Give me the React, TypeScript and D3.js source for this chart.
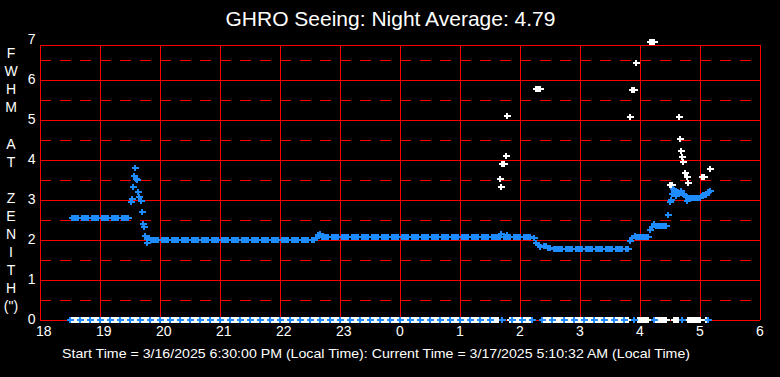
import React from "react";
import * as d3 from "d3";

// ---------- DATA ----------
const TITLE = "GHRO Seeing: Night Average: 4.79";
const FOOTER =
  "Start Time = 3/16/2025 6:30:00 PM (Local Time): Current Time = 3/17/2025 5:10:32 AM (Local Time)";
const Y_LETTERS = ["F", "W", "H", "M", "", "A", "T", "", "Z", "E", "N", "I", "T", "H", '(")'];
const xTickLabels = ["18", "19", "20", "21", "22", "23", "0", "1", "2", "3", "4", "5", "6"];
const yTickValues = [0, 1, 2, 3, 4, 5, 6, 7];

// samples every 2 minutes starting 18:30 (minutes counted from 18:00)
const GRID_START_MIN = 30;
const GRID_STEP_MIN = 2;

// blue series (FWHM), one value per 2-minute sample; 0 = dropout plotted on the axis
const blueGrid: (number | null)[] = [
  0, 2.55, 2.55, 2.55, 2.55, 0, 2.55, 2.55, 2.55, 2.55,
  0, 2.55, 2.55, 2.55, 2.55, 0, 2.55, 2.55, 2.55, 2.55,
  0, 2.55, 2.55, 2.55, 2.55, 0, 2.55, 2.55, 2.55, 2.55,
  0, null, null, null, null, 0, null, null, null, null,
  0, 2.0, 2.0, 2.0, 2.0, 0, 2.0, 2.0, 2.0, 2.0,
  0, 2.0, 2.0, 2.0, 2.0, 0, 2.0, 2.0, 2.0, 2.0,
  0, 2.0, 2.0, 2.0, 2.0, 0, 2.0, 2.0, 2.0, 2.0,
  0, 2.0, 2.0, 2.0, 2.0, 0, 2.0, 2.0, 2.0, 2.0,
  0, 2.0, 2.0, 2.0, 2.0, 0, 2.0, 2.0, 2.0, 2.0,
  0, 2.0, 2.0, 2.0, 2.0, 0, 2.0, 2.0, 2.0, 2.0,
  0, 2.0, 2.0, 2.0, 2.0, 0, 2.0, 2.0, 2.0, 2.0,
  0, 2.0, 2.0, 2.0, 2.0, 0, 2.0, 2.0, 2.0, 2.0,
  0, 2.0, 2.0, 2.05, 2.12, 0, 2.08, 2.08, 2.08, 2.08,
  0, 2.08, 2.08, 2.08, 2.08, 0, 2.08, 2.08, 2.08, 2.08,
  0, 2.08, 2.08, 2.08, 2.08, 0, 2.08, 2.08, 2.08, 2.08,
  0, 2.08, 2.08, 2.08, 2.08, 0, 2.08, 2.08, 2.08, 2.08,
  0, 2.08, 2.08, 2.08, 2.08, 0, 2.08, 2.08, 2.08, 2.08,
  0, 2.08, 2.08, 2.08, 2.08, 0, 2.08, 2.08, 2.08, 2.08,
  0, 2.08, 2.08, 2.08, 2.08, 0, 2.08, 2.08, 2.08, 2.08,
  0, 2.08, 2.08, 2.08, 2.08, 0, 2.08, 2.08, 2.08, 2.08,
  0, 2.08, 2.08, 2.08, 2.08, 0, 2.08, 2.08, 2.08, 2.08,
  0, 2.07, 2.07, 2.07, 2.07, 2.07, 0, 2.07, 2.07, 2.07,
  2.07, 0, 2.07, 2.07, 2.07, 2.07, 0, 2.07, 2.07, 2.07,
  2.07, 0, 2.05, 1.93, 1.87, 1.82, 0, 1.85, 1.84, 1.81,
  1.79, 0, 1.77, 1.77, 1.77, 1.77, 1.77, 0, 1.77, 1.77,
  1.77, 1.77, 0, 1.77, 1.77, 1.77, 1.77, 0, 1.77, 1.77,
  1.77, 1.77, 0, 1.77, 1.77, 1.77, 1.77, 0, 1.77, 1.77,
  1.77, 1.77, 0, 1.77, 1.77, 1.77, 1.77, 0, 1.77, 1.77,
  1.98, 2.04, 0, 2.07, 2.07, 2.07, 2.07, 2.07, 2.07, 2.07,
  2.25, 2.33, 0, 2.35, 2.35, 2.35, 2.35, 2.35, 2.35, 2.62,
  2.95, 3.15, 3.25, 3.1, 3.2, 3.18, 0, 3.12, 3.08, 3.04,
  3.04, 3.04, 3.04, 3.04, 3.04, 3.04, 3.1, 3.12, 3.12, 0,
  3.23,
];

// extra blue samples off the 2-minute grid: minutes after 18:00, value
const blueExtraMinutes = [
  91.3, 92, 93.3, 94.3, 95.3, 96, 96.7, 98.3, 99.3, 101.3, 102.3, 103.3, 104.3, 105.3, 106.7,
  107.3, 108.5, 110.5, 280, 460.7, 466.7, 595, 613.7, 630.7, 632.7, 635.5, 641.3, 643, 647.3,
  663.3, 668,
];
const blueExtraValues = [
  2.95, 3.02, 3.32, 3.6, 3.79, 3.52, 3.5, 3.19, 3.07, 2.97, 2.69, 2.39, 2.33, 2.11, 1.92,
  2.02, 2.06, 2.0, 2.14, 2.15, 2.12, 2.1, 2.4, 3.0, 3.27, 3.2, 3.22, 3.15, 2.98,
  3.12, 3.2,
];

// white series, one value per 2-minute sample (0 = no measurement)
const whiteGrid: (number | null)[] = [
  0, 0, 0, 0, 0, 0, 0, 0, 0, 0,
  0, 0, 0, 0, 0, 0, 0, 0, 0, 0,
  0, 0, 0, 0, 0, 0, 0, 0, 0, 0,
  0, 0, 0, 0, 0, 0, 0, 0, 0, 0,
  0, 0, 0, 0, 0, 0, 0, 0, 0, 0,
  0, 0, 0, 0, 0, 0, 0, 0, 0, 0,
  0, 0, 0, 0, 0, 0, 0, 0, 0, 0,
  0, 0, 0, 0, 0, 0, 0, 0, 0, 0,
  0, 0, 0, 0, 0, 0, 0, 0, 0, 0,
  0, 0, 0, 0, 0, 0, 0, 0, 0, 0,
  0, 0, 0, 0, 0, 0, 0, 0, 0, 0,
  0, 0, 0, 0, 0, 0, 0, 0, 0, 0,
  0, 0, 0, 0, 0, 0, 0, 0, 0, 0,
  0, 0, 0, 0, 0, 0, 0, 0, 0, 0,
  0, 0, 0, 0, 0, 0, 0, 0, 0, 0,
  0, 0, 0, 0, 0, 0, 0, 0, 0, 0,
  0, 0, 0, 0, 0, 0, 0, 0, 0, 0,
  0, 0, 0, 0, 0, 0, 0, 0, 0, 0,
  0, 0, 0, 0, 0, 0, 0, 0, 0, 0,
  0, 0, 0, 0, 0, 0, 0, 0, 0, 0,
  0, 0, 0, 0, 0, 0, 0, 0, 0, 0,
  0, 0, 0, 0, 0, 3.52, 3.89, 3.89, 4.09, null,
  0, 0, 0, 0, 0, 0, 0, 0, 0, 0,
  0, 0, null, 5.77, 5.77, 5.77, null, 0, 0, 0,
  0, 0, 0, 0, 0, 0, 0, 0, 0, 0,
  0, 0, 0, 0, 0, 0, 0, 0, 0, 0,
  0, 0, 0, 0, 0, 0, 0, 0, 0, 0,
  0, 0, 0, 0, 0, 0, 0, 0, 0, 0,
  5.07, 5.75, 5.75, 6.42, 0, 0, 0, 0, 0, 0,
  6.95, 6.95, 6.95, 0, 0, 0, 0, 0, 0, null,
  3.37, 3.37, 0, 0, 0, null, null, null, null, 0,
  0, 0, 0, 0, 0, 0, 3.58, 3.58, 0, 0,
  3.77,
];

const whiteExtraMinutes = [461.3, 467.3, 639.3, 640.3, 641.3, 642.3, 643.3, 645.3, 646.7, 648.3];
const whiteExtraValues = [3.32, 5.1, 5.07, 4.52, 4.22, 4.07, 3.94, 3.67, 3.58, 3.42];

// ---------- CHART ----------
const W = 780;
const H = 377;
const FONT = '"Liberation Sans", Arial, Helvetica, sans-serif';
const RED = "#ff0000";
const BLUE = "#1e8cff";

const xScale = d3.scaleLinear().domain([0, 720]).range([40, 760]);
const yScale = d3.scaleLinear().domain([0, 7]).range([320, 40]);
const PLOT_TOP = 45;

type Pt = { m: number; v: number };

function collect(grid: (number | null)[], exM: number[], exV: number[]): Pt[] {
  const pts: Pt[] = [];
  grid.forEach((v, i) => {
    if (v !== null) pts.push({ m: GRID_START_MIN + i * GRID_STEP_MIN, v });
  });
  exM.forEach((m, i) => pts.push({ m, v: exV[i] }));
  return pts;
}

const bluePts = collect(blueGrid, blueExtraMinutes, blueExtraValues);
const whitePts = collect(whiteGrid, whiteExtraMinutes, whiteExtraValues);

function Plus({ p, color }: { p: Pt; color: string }) {
  const px = Math.round(xScale(p.m));
  const py = Math.round(yScale(p.v));
  return (
    <g fill={color}>
      <rect x={px - 3} y={py - 1} width={7} height={2} />
      <rect x={px - 1} y={py - 3} width={2} height={6} />
    </g>
  );
}

export default function App() {
  const hourTicks = d3.range(0, 721, 60);
  const intLines = d3.range(1, 7);
  const halfLines = d3.range(0.5, 7, 1);
  return (
    <div style={{ position: "fixed", left: 0, top: 0, width: W, height: H, background: "#000" }}>
      <svg width={W} height={H} style={{ display: "block" }} fontFamily={FONT}>
        <rect x={0} y={0} width={W} height={H} fill="#000" />
        <text x={390.5} y={26} fill="#fff" fontSize={21} textAnchor="middle">
          {TITLE}
        </text>

        {/* grid */}
        <g shapeRendering="crispEdges" stroke={RED} strokeWidth={1}>
          {halfLines.map((v) => (
            <line key={"h" + v} x1={40} x2={760} y1={yScale(v)} y2={yScale(v)} strokeDasharray="11,9" />
          ))}
          {intLines.map((v) => (
            <line key={"i" + v} x1={40} x2={760} y1={yScale(v)} y2={yScale(v)} />
          ))}
          {hourTicks.map((m) => (
            <line key={"v" + m} x1={xScale(m)} x2={xScale(m)} y1={PLOT_TOP} y2={320} />
          ))}
          <line x1={40} x2={760} y1={PLOT_TOP} y2={PLOT_TOP} />
          <line x1={40} x2={760} y1={320} y2={320} />
        </g>

        {/* data */}
        <g shapeRendering="crispEdges">
          {whitePts.map((p, i) => (
            <Plus key={"w" + i} p={p} color="#ffffff" />
          ))}
          {bluePts.map((p, i) => (
            <Plus key={"b" + i} p={p} color={BLUE} />
          ))}
        </g>

        {/* y tick labels */}
        {yTickValues.map((v) => (
          <text key={"yl" + v} x={35.5} y={yScale(v) + 4} fill="#fff" fontSize={14} textAnchor="end">
            {v}
          </text>
        ))}
        {/* x tick labels */}
        {hourTicks.map((m, i) => (
          <text key={"xl" + m} x={xScale(m) - 4} y={336} fill="#fff" fontSize={14} textAnchor="start">
            {xTickLabels[i]}
          </text>
        ))}
        {/* vertical y-axis title */}
        {Y_LETTERS.map((ch, i) => (
          <text key={"yt" + i} x={11} y={53 + i * 18.1 + 5} fill="#fff" fontSize={14} textAnchor="middle">
            {ch}
          </text>
        ))}
        <text x={62} y={358} fill="#fff" fontSize={13} textLength={628} lengthAdjust="spacingAndGlyphs">
          {FOOTER}
        </text>
      </svg>
    </div>
  );
}
